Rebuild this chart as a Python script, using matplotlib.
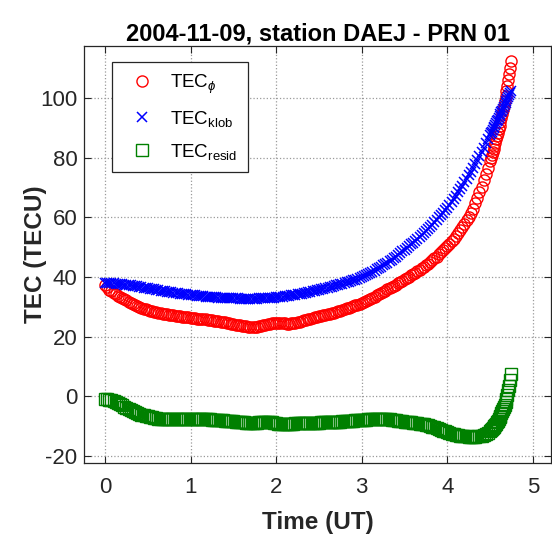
import numpy as np
import matplotlib
matplotlib.use('Agg')
from matplotlib import pyplot as plt

plt.rcParams['font.family'] = ['Liberation Sans', 'DejaVu Sans']
plt.rcParams['mathtext.fontset'] = 'custom'
plt.rcParams['mathtext.rm'] = 'Liberation Sans'
plt.rcParams['mathtext.it'] = 'Liberation Sans:italic'
plt.rcParams['axes.unicode_minus'] = False

# time (UT hours): 0.025 h steps, then 0.01 h steps where the curves get steep
t_early = np.round(np.arange(0, 4.5001, 0.025), 3)
t_late = np.round(np.arange(4.51, 4.7401, 0.01), 2)
t = np.concatenate([t_early, t_late])

# TEC from carrier phase (red circles)
tec_phi = [37.5, 36.6, 35.8, 35.2, 34.6, 34.2, 33.8, 33.4, 33.0, 32.6,
           32.2, 31.8, 31.4, 31.0, 30.7, 30.3, 30.0, 29.7, 29.4, 29.2,
           29.0, 28.8, 28.6, 28.4, 28.2, 28.0, 27.9, 27.7, 27.6, 27.5,
           27.4, 27.3, 27.2, 27.1, 27.0, 26.9, 26.8, 26.7, 26.6, 26.5,
           26.4, 26.3, 26.2, 26.1, 26.0, 25.9, 25.9, 25.8, 25.7, 25.6,
           25.5, 25.4, 25.3, 25.2, 25.1, 25.0, 24.9, 24.7, 24.6, 24.4,
           24.3, 24.1, 24.0, 23.8, 23.7, 23.6, 23.5, 23.4, 23.4, 23.4,
           23.4, 23.4, 23.5, 23.6, 23.8, 24.0, 24.2, 24.4, 24.5, 24.6,
           24.7, 24.7, 24.7, 24.6, 24.5, 24.4, 24.4, 24.5, 24.6, 24.7,
           24.9, 25.1, 25.3, 25.5, 25.7, 25.9, 26.1, 26.3, 26.5, 26.7,
           26.9, 27.0, 27.2, 27.3, 27.5, 27.7, 27.9, 28.1, 28.3, 28.5,
           28.8, 29.0, 29.3, 29.5, 29.8, 30.0, 30.3, 30.5, 30.8, 31.1,
           31.4, 31.7, 32.1, 32.4, 32.8, 33.1, 33.5, 33.9, 34.3, 34.7,
           35.1, 35.5, 35.9, 36.3, 36.7, 37.1, 37.5, 37.9, 38.4, 38.8,
           39.3, 39.7, 40.2, 40.6, 41.1, 41.5, 42.0, 42.5, 43.0, 43.5,
           44.0, 44.5, 45.1, 45.7, 46.3, 46.9, 47.6, 48.3, 49.0, 49.7,
           50.5, 51.2, 52.0, 52.9, 53.8, 54.7, 55.7, 56.7, 57.8, 59.0,
           60.2, 61.5, 63.0, 64.7, 66.5, 68.4, 70.3, 72.4, 74.5, 76.7,
           79.0,
           80.0, 81.0, 82.0, 83.0, 84.0, 85.1, 86.2, 87.3, 88.4, 89.6,
           90.8, 92.0, 93.3, 94.6, 96.0, 97.4, 99.0, 100.6, 102.3, 104.0,
           106.0, 108.0, 110.2, 112.5]

# Klobuchar model TEC (blue crosses)
tec_klob = [38.0, 38.0, 38.0, 37.9, 37.9, 37.8, 37.8, 37.7, 37.6, 37.5,
            37.4, 37.3, 37.2, 37.1, 37.0, 36.9, 36.8, 36.7, 36.5, 36.4,
            36.3, 36.1, 36.0, 35.9, 35.8, 35.6, 35.5, 35.4, 35.3, 35.1,
            35.0, 34.9, 34.8, 34.7, 34.6, 34.5, 34.4, 34.3, 34.2, 34.1,
            34.0, 33.9, 33.9, 33.8, 33.7, 33.6, 33.6, 33.5, 33.4, 33.4,
            33.3, 33.2, 33.2, 33.1, 33.1, 33.0, 33.0, 33.0, 33.0, 32.9,
            32.9, 32.9, 32.9, 32.8, 32.8, 32.8, 32.8, 32.8, 32.8, 32.8,
            32.8, 32.8, 32.9, 32.9, 32.9, 32.9, 33.0, 33.0, 33.1, 33.1,
            33.2, 33.3, 33.4, 33.5, 33.6, 33.7, 33.8, 33.9, 34.0, 34.1,
            34.2, 34.4, 34.5, 34.7, 34.8, 35.0, 35.1, 35.3, 35.4, 35.6,
            35.7, 35.9, 36.1, 36.2, 36.4, 36.6, 36.8, 37.0, 37.2, 37.4,
            37.6, 37.8, 38.0, 38.3, 38.5, 38.7, 39.0, 39.2, 39.5, 39.7,
            40.0, 40.3, 40.7, 41.0, 41.4, 41.8, 42.2, 42.6, 43.0, 43.4,
            43.9, 44.3, 44.8, 45.3, 45.8, 46.3, 46.9, 47.4, 48.0, 48.6,
            49.2, 49.8, 50.4, 51.0, 51.6, 52.2, 52.9, 53.5, 54.2, 54.8,
            55.5, 56.2, 56.9, 57.6, 58.4, 59.2, 60.0, 60.8, 61.6, 62.4,
            63.3, 64.2, 65.2, 66.2, 67.3, 68.4, 69.5, 70.6, 71.8, 73.0,
            74.2, 75.4, 76.7, 78.0, 79.3, 80.6, 82.0, 83.4, 84.8, 86.2,
            87.6,
            88.2, 88.7, 89.3, 89.9, 90.4, 91.0, 91.6, 92.2, 92.8, 93.4,
            94.0, 94.6, 95.2, 95.8, 96.4, 97.0, 97.7, 98.3, 99.0, 99.6,
            100.3, 101.0, 101.7, 102.5]

# residual (green squares)
tec_resid = [-1.0, -1.0, -1.1, -1.3, -1.5, -1.8, -2.2, -2.6, -3.0, -3.4,
             -3.8, -4.2, -4.5, -4.9, -5.2, -5.5, -5.8, -6.1, -6.3, -6.5,
             -6.7, -6.9, -7.0, -7.2, -7.3, -7.4, -7.5, -7.6, -7.6, -7.7,
             -7.7, -7.7, -7.7, -7.7, -7.7, -7.7, -7.6, -7.6, -7.6, -7.6,
             -7.6, -7.6, -7.6, -7.6, -7.6, -7.6, -7.6, -7.6, -7.6, -7.7,
             -7.8, -7.8, -7.9, -7.9, -8.0, -8.0, -8.1, -8.1, -8.2, -8.2,
             -8.3, -8.4, -8.5, -8.6, -8.7, -8.7, -8.8, -8.8, -8.9, -8.9,
             -8.9, -8.8, -8.7, -8.6, -8.5, -8.5, -8.5, -8.6, -8.7, -8.8,
             -9.0, -9.1, -9.2, -9.2, -9.3, -9.3, -9.2, -9.2, -9.1, -9.0,
             -9.0, -8.9, -8.9, -8.9, -8.9, -8.8, -8.8, -8.8, -8.8, -8.8,
             -8.8, -8.7, -8.7, -8.7, -8.7, -8.6, -8.6, -8.5, -8.5, -8.4,
             -8.4, -8.3, -8.3, -8.2, -8.2, -8.1, -8.1, -8.0, -8.0, -7.9,
             -7.9, -7.8, -7.8, -7.7, -7.7, -7.6, -7.6, -7.6, -7.6, -7.6,
             -7.6, -7.6, -7.7, -7.7, -7.8, -7.9, -8.0, -8.1, -8.2, -8.3,
             -8.4, -8.5, -8.6, -8.7, -8.8, -8.9, -9.0, -9.1, -9.2, -9.3,
             -9.5, -9.7, -9.9, -10.1, -10.4, -10.6, -10.9, -11.2, -11.5, -11.7,
             -12.0, -12.2, -12.5, -12.7, -12.9, -13.0, -13.2, -13.3, -13.4, -13.4,
             -13.5, -13.5, -13.5, -13.5, -13.4, -13.3, -13.1, -12.8, -12.5, -12.1,
             -11.6,
             -11.3, -11.0, -10.7, -10.3, -9.9, -9.5, -9.1, -8.6, -8.1, -7.6,
             -7.0, -6.4, -5.7, -5.0, -4.2, -3.4, -2.7, -2.0, -0.8, 0.5,
             2.0, 3.5, 5.5, 7.5]

labels = [r'TEC$_{\phi}$', r'TEC$_{\mathrm{klob}}$', r'TEC$_{\mathrm{resid}}$']

fig = plt.figure(figsize=(5.52, 5.35), dpi=100)
ax = fig.add_axes([0.153, 0.1346, 0.845, 0.779])

ax.plot(t, tec_phi, 'o', ms=8, mfc='none', mec='#ff0000', mew=1.0, label=labels[0])
ax.plot(t, tec_klob, 'x', ms=7, color='#0000ff', mew=1.1, label=labels[1])
ax.plot(t, tec_resid, 's', ms=8.5, mfc='none', mec='#008000', mew=1.0, label=labels[2])

ax.set_xlim(-0.24, 5.21)
ax.set_ylim(-22.3, 117.4)
ax.set_xticks([0, 1, 2, 3, 4, 5])
ax.set_yticks([-20, 0, 20, 40, 60, 80, 100])
ax.grid(True, linestyle=':', color='#9a9a9a', lw=0.9)
ax.tick_params(direction='in', top=True, right=True, length=5, width=0.8,
               labelsize=16, colors='#262626')
ax.tick_params(axis='x', pad=10)
ax.tick_params(axis='y', pad=5)
for s in ax.spines.values():
    s.set_color('#262626')
    s.set_linewidth(0.9)

ax.set_title('2004-11-09, station DAEJ - PRN 01', fontsize=17, fontweight='bold', pad=4)
ax.set_xlabel('Time (UT)', fontsize=17.5, fontweight='bold', color='#262626')
ax.set_ylabel('TEC (TECU)', fontsize=17.5, fontweight='bold', color='#262626')
ax.xaxis.set_label_coords(0.5, -0.114)
ax.yaxis.set_label_coords(-0.080, 0.5)

leg = ax.legend(loc='upper left', bbox_to_anchor=(0.059, 0.9616), borderaxespad=0,
                fontsize=13.5, numpoints=1, borderpad=0.55, handlelength=2.1,
                handletextpad=0.45, labelspacing=0.7, fancybox=False, framealpha=1,
                edgecolor='#262626')
leg.get_frame().set_linewidth(0.9)

fig.savefig('out.png', dpi=100)
